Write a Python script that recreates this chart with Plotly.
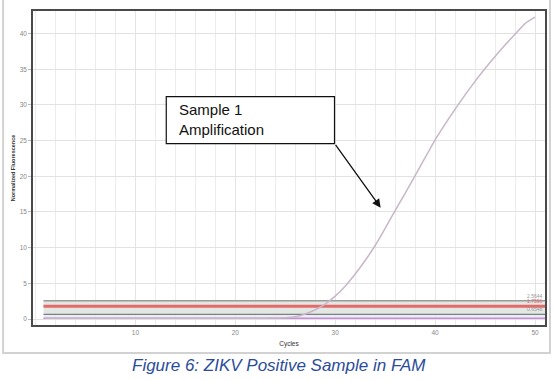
import plotly.graph_objects as go

# ---- data ----
cycles = list(range(1, 51))
sample1_fluor = [0.10, 0.10, 0.10, 0.10, 0.10, 0.10, 0.10, 0.10, 0.10, 0.10,
                 0.10, 0.10, 0.10, 0.10, 0.10, 0.10, 0.10, 0.10, 0.10, 0.10,
                 0.10, 0.11, 0.12, 0.13, 0.16, 0.30, 0.70, 1.30, 2.10, 3.20,
                 4.60, 6.30, 8.20, 10.3, 12.7, 15.2, 17.6, 20.1, 22.6, 25.1,
                 27.3, 29.4, 31.4, 33.3, 35.1, 36.8, 38.4, 39.9, 41.4, 42.3]
threshold_span = [0.8, 51.0]
upper_limit = 2.56
threshold = 1.77
lower_limit = 0.65
baseline = 0.10
threshold_labels = ["2.5644", "1.7596", "0.6548"]
x_ticks = [10, 20, 30, 40, 50]
y_ticks = [0, 5, 10, 15, 20, 25, 30, 35, 40]

FONT = "Arial, Liberation Sans, sans-serif"

fig = go.Figure()

fig.add_trace(go.Scatter(x=threshold_span, y=[baseline] * 2, mode="lines",
                         line=dict(color="#CC8AD8", width=1.4), hoverinfo="skip"))
fig.add_trace(go.Scatter(x=threshold_span, y=[lower_limit] * 2, mode="lines",
                         line=dict(color="#7E807E", width=1.3), fill="tonexty",
                         fillcolor="rgba(228,234,246,0.8)", hoverinfo="skip"))
fig.add_trace(go.Scatter(x=threshold_span, y=[upper_limit] * 2, mode="lines",
                         line=dict(color="#9A9A9A", width=1.5), fill="tonexty",
                         fillcolor="rgba(224,228,224,0.9)", hoverinfo="skip"))
fig.add_trace(go.Scatter(x=threshold_span, y=[threshold] * 2, mode="lines",
                         line=dict(color="#E46A6A", width=3), hoverinfo="skip"))

# amplification curve
fig.add_trace(go.Scatter(x=cycles, y=sample1_fluor, mode="lines",
                         line=dict(color="#C9B6C9", width=1.5, shape="spline", smoothing=0.6)))

annotations = []
for val, lab, col in zip([upper_limit, threshold, lower_limit], threshold_labels,
                         ["#999999", "#E46A6A", "#9A9A9A"]):
    annotations.append(dict(x=threshold_span[1], y=val, xref="x", yref="y", text=lab,
                            showarrow=False, xanchor="right", yanchor="bottom",
                            font=dict(family=FONT, size=5, color=col)))

annotations.append(dict(x=14.2, y=27.9, xref="x", yref="y",
                        text="Sample 1<br>Amplification", showarrow=False,
                        xanchor="left", yanchor="middle", align="left",
                        font=dict(family=FONT, size=15, color="#111111")))
annotations.append(dict(x=34.55, y=15.6, xref="x", yref="y", ax=29.93, ay=24.6,
                        axref="x", ayref="y", text="", showarrow=True,
                        arrowhead=2, arrowsize=1.3, arrowwidth=1.3, arrowcolor="#111111"))
annotations.append(dict(x=0.48, y=-0.13, xref="paper", yref="paper",
                        text="<i>Figure 6: ZIKV Positive Sample in FAM</i>",
                        showarrow=False, xanchor="center", yanchor="middle",
                        font=dict(family=FONT, size=17, color="#2B4C9B")))

shapes = [
    dict(type="rect", xref="paper", yref="paper", x0=-0.0584, x1=1.0097,
         y0=-0.0889, y1=1.0698, line=dict(color="#D2D2D2", width=2), layer="below"),
    dict(type="rect", xref="x", yref="y", x0=13.09, x1=29.93, y0=24.58, y1=31.15,
         line=dict(color="#111111", width=1.2), fillcolor="white", layer="above"),
]

fig.update_layout(
    width=556, height=380,
    margin=dict(l=33, r=9, t=10, b=55),
    paper_bgcolor="white", plot_bgcolor="white",
    showlegend=False,
    annotations=annotations,
    shapes=shapes,
    font=dict(family=FONT),
)
fig.update_xaxes(range=[-0.25, 51.0], tickvals=x_ticks, ticktext=[str(v) for v in x_ticks],
                 tickfont=dict(size=6.5, color="#888888"),
                 showgrid=True, gridcolor="#E4E4E4", gridwidth=1,
                 minor=dict(dtick=2, tick0=0, showgrid=True, gridcolor="#ECECEC", gridwidth=1),
                 showline=True, linecolor="#4A4A4A", linewidth=1.5, mirror=True,
                 ticks="", zeroline=False,
                 title=dict(text="Cycles", font=dict(size=6.5, color="#333333"), standoff=7))
fig.update_yaxes(range=[-0.84, 43.16], tickvals=y_ticks, ticktext=[str(v) for v in y_ticks],
                 tickfont=dict(size=6.5, color="#888888"),
                 showgrid=True, gridcolor="#E2E2E2", gridwidth=1,
                 showline=True, linecolor="#4A4A4A", linewidth=1.5, mirror=True,
                 ticks="outside", ticklen=3, tickcolor="#BBBBBB", zeroline=False,
                 title=dict(text="<b>Normalized Fluorescence</b>",
                            font=dict(size=5.5, color="#333333"), standoff=4))

fig.write_html("out.html", config={"displayModeBar": False},
               post_script="document.body.style.margin='0';")
